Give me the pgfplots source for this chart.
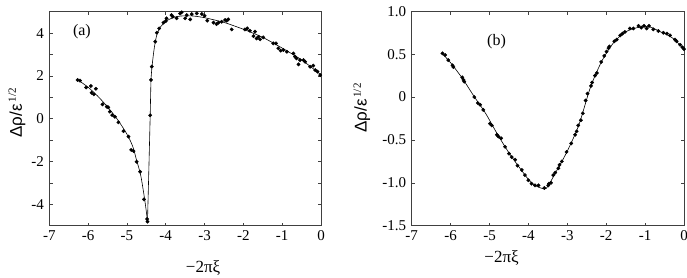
\documentclass[border=0pt]{standalone}
\usepackage{pgfplots}
\pgfplotsset{compat=1.18}
\usepackage{fontspec}
\setmainfont{Liberation Serif}
\setsansfont{Liberation Sans}
\begin{document}
\begin{tikzpicture}
\useasboundingbox (0pt,0pt) rectangle (687pt,-277pt);
\pgfplotsset{
  every axis/.append style={
    scale only axis,
    anchor=south west,
    axis line style={black!75, line width=0.6pt},
    tick style={black!75, line width=0.5pt},
    major tick length=3.2pt, minor tick length=3.2pt,
    tick align=inside,
    xtick pos=both, ytick pos=both,
    xmin=-7, xmax=0,
    xtick={-7,-6,-5,-4,-3,-2,-1,0},
    xticklabels={-7,-6,-5,-4,-3,-2,-1,0},
    /pgf/number format/assume math mode=true,
    tick label style={font=\fontsize{15}{15}\selectfont},
    xticklabel style={yshift=-1pt},
    yticklabel style={xshift=-2pt},
  },
  pts/.style={only marks, mark=*, mark size=1.7pt, black},
  crv/.style={no marks, black, line width=0.6pt, smooth, tension=0.5},
}
% ---------------- panel (a)
\begin{axis}[
  at={(49.3pt,-225.7pt)}, width=271.7pt, height=214pt,
  ymin=-5, ymax=5,
  ytick={-4,-2,0,2,4}, yticklabels={-4,-2,0,2,4},
  minor ytick={-3,-1,1,3},
  xlabel={\fontsize{17}{17}\selectfont −2πξ},
  xlabel style={at={(axis description cs:0.566,-0.2)}, anchor=center},
  ylabel={{\fontsize{17}{17}\selectfont\sffamily Δρ/ε}\,\raisebox{1.3ex}{\fontsize{11}{11}\selectfont 1/2}},
  ylabel style={at={(axis description cs:-0.119,0.527)}, anchor=center},
  clip=false,
]
\addplot[crv] coordinates {
(-6.27,1.82) (-6.0,1.47) (-5.75,1.05) (-5.5,0.55) (-5.25,-0.02) (-5.0,-0.72)
(-4.85,-1.3) (-4.75,-1.95) (-4.65,-2.6) (-4.57,-3.45) (-4.51,-4.2) (-4.47,-4.8)};
\addplot[crv, tension=0.35] coordinates {
(-4.47,-4.8) (-4.43,-2.0) (-4.40,0.2) (-4.38,1.8) (-4.35,2.5) (-4.3,3.25)
(-4.24,3.85) (-4.15,4.25) (-4.0,4.55) (-3.8,4.73) (-3.6,4.8) (-3.3,4.8)
(-3.0,4.72) (-2.5,4.5) (-2.0,4.18) (-1.5,3.8) (-1.0,3.3) (-0.5,2.75) (0,2.05)};
\addplot[pts] coordinates {
(-6.27,1.81) (-6.21,1.78) (-6.05,1.46) (-5.93,1.53) (-5.80,1.40) (-5.91,1.21)
(-5.85,1.14) (-5.63,0.67) (-5.52,0.56) (-5.48,0.53) (-5.44,0.33) (-5.38,0.17)
(-5.31,0.09) (-5.22,-0.17) (-5.09,-0.58) (-4.96,-0.84) (-4.89,-1.46) (-4.83,-1.51)
(-4.75,-2.01) (-4.66,-2.48) (-4.56,-3.77) (-4.48,-4.69) (-4.47,-4.81)
(-4.40,0.16) (-4.38,1.81) (-4.36,2.43) (-4.27,3.60) (-4.23,4.02) (-4.17,4.22)
(-4.06,4.49) (-3.98,4.69) (-4.00,4.56) (-3.85,4.84) (-3.82,4.77) (-3.72,4.69)
(-3.63,4.92) (-3.59,4.97) (-3.50,4.69) (-3.46,4.84) (-3.37,4.64) (-3.33,4.89)
(-3.20,4.92) (-3.07,4.89) (-3.00,4.81) (-2.93,4.58) (-2.77,4.49) (-2.69,4.42)
(-2.64,4.49) (-2.56,4.53) (-2.47,4.61) (-2.43,4.58) (-2.39,4.64) (-2.30,4.17)
(-1.96,4.17) (-1.90,4.22) (-1.83,4.11) (-1.74,3.86) (-1.70,4.07) (-1.66,3.75)
(-1.61,3.83) (-1.57,3.71) (-1.49,3.80) (-1.23,3.52) (-1.16,3.52) (-1.10,3.29)
(-1.04,3.18) (-0.97,3.21) (-0.88,3.13) (-0.71,3.05) (-0.67,2.90) (-0.63,2.82)
(-0.54,2.74) (-0.45,2.74) (-0.58,2.54) (-0.41,2.66) (-0.28,2.43) (-0.20,2.48)
(-0.15,2.27) (-0.09,2.20) (-0.02,2.04)};
\node[font=\fontsize{16}{16}\selectfont] at (axis cs:-6.16,4.07) {(a)};
\end{axis}
% ---------------- panel (b)
\begin{axis}[
  at={(411.7pt,-225.7pt)}, width=272.3pt, height=214.4pt,
  ymin=-1.5, ymax=1.0,
  ytick={-1.5,-1,-0.5,0,0.5,1}, yticklabels={-1.5,-1.0,-0.5,0,0.5,1.0},
  xlabel={\fontsize{17}{17}\selectfont −2πξ},
  xlabel style={at={(axis description cs:0.33,-0.15)}, anchor=center},
  ylabel={{\fontsize{17}{17}\selectfont\sffamily Δρ/ε}\,\raisebox{1.3ex}{\fontsize{11}{11}\selectfont 1/2}},
  ylabel style={at={(axis description cs:-0.183,0.549)}, anchor=center},
  clip=false,
]
\addplot[crv] coordinates {
(-6.22,0.51) (-6.0,0.40) (-5.7,0.22) (-5.4,0.01) (-5.1,-0.19) (-4.8,-0.43)
(-4.5,-0.65) (-4.2,-0.84) (-3.9,-1.01) (-3.6,-1.07) (-3.5,-1.04) (-3.3,-0.88)
(-3.0,-0.63) (-2.7,-0.32) (-2.4,0.12) (-2.1,0.43) (-1.8,0.64) (-1.5,0.76)
(-1.2,0.81) (-0.9,0.82) (-0.6,0.76) (-0.3,0.69) (0,0.56)};
\addplot[pts] coordinates {
(-6.21,0.51) (-6.14,0.49) (-6.06,0.43) (-5.95,0.37) (-5.93,0.35) (-5.70,0.23)
(-5.67,0.20) (-5.65,0.18) (-5.39,0.00) (-5.30,-0.07) (-5.24,-0.09) (-5.16,-0.15)
(-4.99,-0.31) (-4.94,-0.33) (-4.81,-0.44) (-4.77,-0.46) (-4.70,-0.48) (-4.60,-0.58)
(-4.50,-0.66) (-4.43,-0.70) (-4.34,-0.73) (-4.28,-0.80) (-4.17,-0.85) (-4.09,-0.91)
(-4.00,-0.97) (-3.92,-1.01) (-3.83,-1.03) (-3.74,-1.03) (-3.59,-1.06) (-3.49,-1.03)
(-3.47,-1.01) (-3.42,-1.00) (-3.36,-0.91) (-3.31,-0.88) (-3.23,-0.83) (-3.20,-0.79)
(-3.14,-0.75) (-3.02,-0.64) (-2.90,-0.54) (-2.80,-0.44) (-2.76,-0.40) (-2.72,-0.33)
(-2.65,-0.27) (-2.60,-0.19) (-2.53,-0.04) (-2.48,0.04) (-2.39,0.13) (-2.36,0.17)
(-2.29,0.25) (-2.24,0.28) (-2.13,0.41) (-2.05,0.48) (-1.99,0.53) (-1.94,0.57)
(-1.92,0.59) (-1.79,0.65) (-1.73,0.67) (-1.64,0.72) (-1.58,0.74) (-1.52,0.76)
(-1.39,0.80) (-1.30,0.80) (-1.17,0.83) (-1.10,0.81) (-1.03,0.83) (-0.96,0.80)
(-0.90,0.83) (-0.79,0.79) (-0.66,0.77) (-0.53,0.75) (-0.44,0.74) (-0.36,0.72)
(-0.23,0.67) (-0.19,0.65) (-0.10,0.61) (-0.04,0.58) (0.0,0.56)};
\node[font=\fontsize{16}{16}\selectfont] at (axis cs:-4.82,0.65) {(b)};
\end{axis}
\end{tikzpicture}
\end{document}
